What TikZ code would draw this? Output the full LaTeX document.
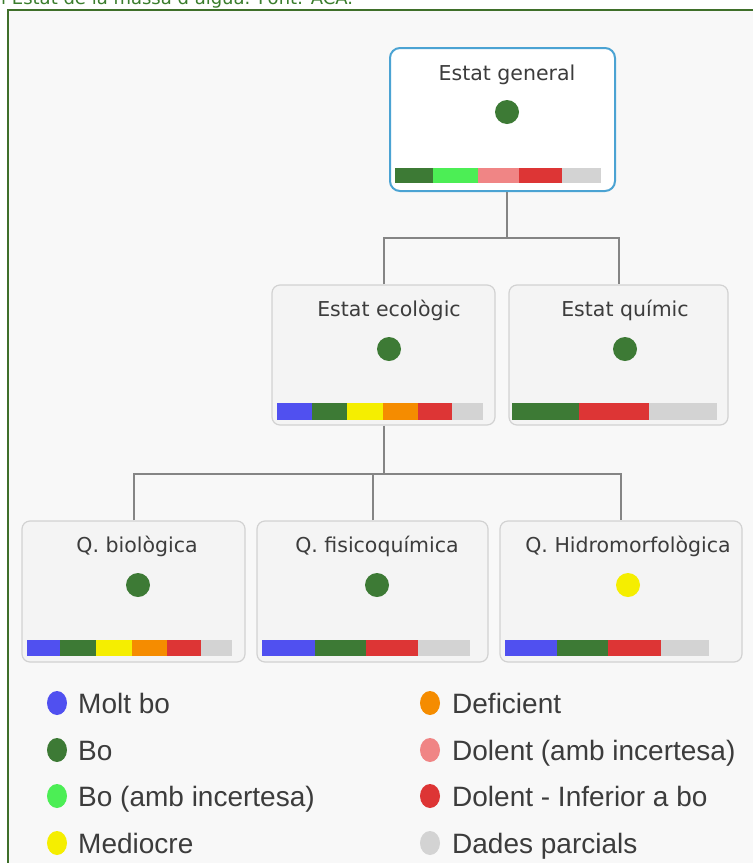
\documentclass[tikz,border=0pt]{standalone}
\usepackage{fontspec}
\setmainfont{DejaVu Sans}
\newfontfamily\legfont{Liberation Sans}
\usetikzlibrary{shapes.geometric}
\definecolor{frameG}{HTML}{3F6F2A}
\definecolor{capG}{HTML}{3A7D2C}
\definecolor{bgG}{HTML}{F8F8F8}
\definecolor{boxF}{HTML}{F4F4F4}
\definecolor{boxD}{HTML}{D2D2D2}
\definecolor{topD}{HTML}{4BA3D3}
\definecolor{connC}{HTML}{858585}
\definecolor{txtC}{HTML}{3C3C3C}
\definecolor{cMolt}{HTML}{5050F0}
\definecolor{cBo}{HTML}{3D7A35}
\definecolor{cBoI}{HTML}{4CEE55}
\definecolor{cMed}{HTML}{F5EE00}
\definecolor{cDef}{HTML}{F58C00}
\definecolor{cDolI}{HTML}{F08585}
\definecolor{cDol}{HTML}{DD3535}
\definecolor{cPar}{HTML}{D3D3D3}
\tikzset{
  card/.style={draw=boxD, fill=boxF, line width=1.2pt, rounded corners=8pt, inner sep=0pt},
  topcard/.style={draw=topD, fill=white, line width=2pt, rounded corners=10pt, inner sep=0pt},
  ttl/.style={anchor=base, inner sep=0pt, text=txtC, font=\fontsize{20.5}{24}\selectfont},
  sdot/.style={circle, inner sep=0pt, minimum size=24pt},
  ldot/.style={ellipse, inner sep=0pt, minimum width=20pt, minimum height=24pt},
  leg/.style={anchor=base west, inner sep=0pt, text=txtC, font=\legfont\fontsize{28}{31}\selectfont},
  conn/.style={draw=connC, line width=2pt},
}
\begin{document}
\begin{tikzpicture}[x=1pt, y=-1pt]
\useasboundingbox (0,0) rectangle (753,863);
\fill[white] (0,0) rectangle (753,863);
\fill[bgG] (8,10) rectangle (780,890);
\draw[frameG, line width=2pt] (8,10) rectangle (780,890);
\node[anchor=base west, inner sep=0pt, text=capG, font=\fontsize{18}{20}\selectfont] (cap) at (1,4) {l Estat de la massa d'aigua. Font: ACA.};

% boxes
\node[topcard, minimum width=225pt, minimum height=143pt] (top) at (502.5,119.5) {};
\node[card, minimum width=223pt, minimum height=140pt] (eco) at (383.5,355) {};
\node[card, minimum width=219pt, minimum height=140pt] (quim) at (618.5,355) {};
\node[card, minimum width=223pt, minimum height=141pt] (bio) at (133.5,591.5) {};
\node[card, minimum width=231pt, minimum height=141pt] (fis) at (372.5,591.5) {};
\node[card, minimum width=242pt, minimum height=141pt] (hid) at (621,591.5) {};

% connectors
\coordinate (j1) at (507,238);
\coordinate (j2) at (383.5,474);
\draw[conn] (top.south -| j1) -- (j1);
\draw[conn] (eco.north) |- (quim.north |- j1) -- (quim.north);
\draw[conn] (eco.south) -- (j2);
\draw[conn] (bio.north) |- (hid.north |- j2) -- (hid.north);
\draw[conn] (fis.north) -- (fis.north |- j2);

% titles
\node[ttl] (ttop) at (507,80) {Estat general};
\node[ttl] (teco) at (389,316) {Estat ecològic};
\node[ttl] (tquim) at (625,316) {Estat químic};
\node[ttl] (tbio) at (137,552) {Q. biològica};
\node[ttl] (tfis) at (377,552) {Q. fisicoquímica};
\node[ttl] (thid) at (628,552) {Q. Hidromorfològica};

% dots
\node[sdot, fill=cBo] (dtop) at (507,112) {};
\node[sdot, fill=cBo] (deco) at (389,349) {};
\node[sdot, fill=cBo] (dquim) at (625,349) {};
\node[sdot, fill=cBo] (dbio) at (138,585) {};
\node[sdot, fill=cBo] (dfis) at (377,585) {};
\node[sdot, fill=cMed] (dhid) at (628,585) {};

% bars
\fill[cBo] (395,168) rectangle (433,183);
\fill[cBoI] (433,168) rectangle (478,183);
\fill[cDolI] (478,168) rectangle (519,183);
\fill[cDol] (519,168) rectangle (562,183);
\fill[cPar] (562,168) rectangle (601,183);

\fill[cMolt] (277,403) rectangle (312,420);
\fill[cBo] (312,403) rectangle (347,420);
\fill[cMed] (347,403) rectangle (383,420);
\fill[cDef] (383,403) rectangle (418,420);
\fill[cDol] (418,403) rectangle (452,420);
\fill[cPar] (452,403) rectangle (483,420);

\fill[cBo] (512,403) rectangle (579,420);
\fill[cDol] (579,403) rectangle (649,420);
\fill[cPar] (649,403) rectangle (717,420);

\fill[cMolt] (27,640) rectangle (60,656);
\fill[cBo] (60,640) rectangle (96,656);
\fill[cMed] (96,640) rectangle (132,656);
\fill[cDef] (132,640) rectangle (167,656);
\fill[cDol] (167,640) rectangle (201,656);
\fill[cPar] (201,640) rectangle (232,656);

\fill[cMolt] (262,640) rectangle (315,656);
\fill[cBo] (315,640) rectangle (366,656);
\fill[cDol] (366,640) rectangle (418,656);
\fill[cPar] (418,640) rectangle (470,656);

\fill[cMolt] (505,640) rectangle (557,656);
\fill[cBo] (557,640) rectangle (608,656);
\fill[cDol] (608,640) rectangle (661,656);
\fill[cPar] (661,640) rectangle (709,656);

% legend
\node[ldot, fill=cMolt] (l1) at (57,703) {};
\node[ldot, fill=cBo] (l2) at (57,750) {};
\node[ldot, fill=cBoI] (l3) at (57,796) {};
\node[ldot, fill=cMed] (l4) at (57,843) {};
\node[ldot, fill=cDef] (l5) at (430,703) {};
\node[ldot, fill=cDolI] (l6) at (430,750) {};
\node[ldot, fill=cDol] (l7) at (430,796) {};
\node[ldot, fill=cPar] (l8) at (430,843) {};
\node[leg] (t1) at (78,713) {Molt bo};
\node[leg] (t2) at (78,760) {Bo};
\node[leg] (t3) at (78,806) {Bo (amb incertesa)};
\node[leg] (t4) at (78,853) {Mediocre};
\node[leg] (t5) at (452,713) {Deficient};
\node[leg] (t6) at (452,760) {Dolent (amb incertesa)};
\node[leg] (t7) at (452,806) {Dolent - Inferior a bo};
\node[leg] (t8) at (452,853) {Dades parcials};
\end{tikzpicture}
\end{document}
